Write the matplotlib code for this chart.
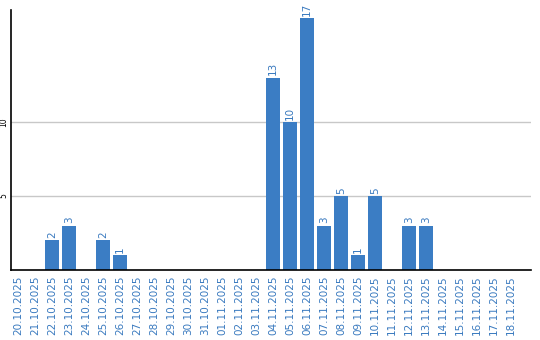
import matplotlib
matplotlib.use("Agg")
import matplotlib.pyplot as plt

plt.rcParams["font.family"] = "DejaVu Sans"

dates = [
    "20.10.2025", "21.10.2025", "22.10.2025", "23.10.2025", "24.10.2025",
    "25.10.2025", "26.10.2025", "27.10.2025", "28.10.2025", "29.10.2025",
    "30.10.2025", "31.10.2025", "01.11.2025", "02.11.2025", "03.11.2025",
    "04.11.2025", "05.11.2025", "06.11.2025", "07.11.2025", "08.11.2025",
    "09.11.2025", "10.11.2025", "11.11.2025", "12.11.2025", "13.11.2025",
    "14.11.2025", "15.11.2025", "16.11.2025", "17.11.2025", "18.11.2025",
]
counts = [0, 0, 2, 3, 0, 2, 1, 0, 0, 0,
          0, 0, 0, 0, 0, 13, 10, 17, 3, 5,
          1, 5, 0, 3, 3, 0, 0, 0, 0, 0]
y_ticks = [5, 10]

bar_color = "#3b7dc4"
text_color = "#3a7abf"

fig = plt.figure(figsize=(5.4, 3.4), dpi=100)
ax = fig.add_axes([11 / 540, 70 / 340, 520 / 540, 260 / 340])

x = list(range(len(dates)))
bars = ax.bar(x, counts, width=0.82, color=bar_color, zorder=2)

for xi, v in zip(x, counts):
    if v > 0:
        ax.text(xi, v + 0.15, str(v), rotation=90, ha="center", va="bottom",
                fontsize=7.5, color=text_color)

ax.set_xlim(-0.41, 30.18)
ax.set_ylim(0, 17.57)
ax.set_yticks(y_ticks)
ax.set_yticklabels([str(t) for t in y_ticks], rotation=90, fontsize=5.5,
                   va="center")
ax.set_xticks(x)
ax.set_xticklabels(dates, rotation=90, fontsize=7.5, color=text_color)
ax.tick_params(axis="both", length=0)
ax.tick_params(axis="y", pad=2)
ax.tick_params(axis="x", pad=4)
ax.grid(axis="y", color="#c8c8c8", linewidth=1, zorder=0)
for side in ["top", "right"]:
    ax.spines[side].set_visible(False)
for side in ["left", "bottom"]:
    ax.spines[side].set_color("black")
    ax.spines[side].set_linewidth(1.2)

fig.savefig("out.png", dpi=100)
